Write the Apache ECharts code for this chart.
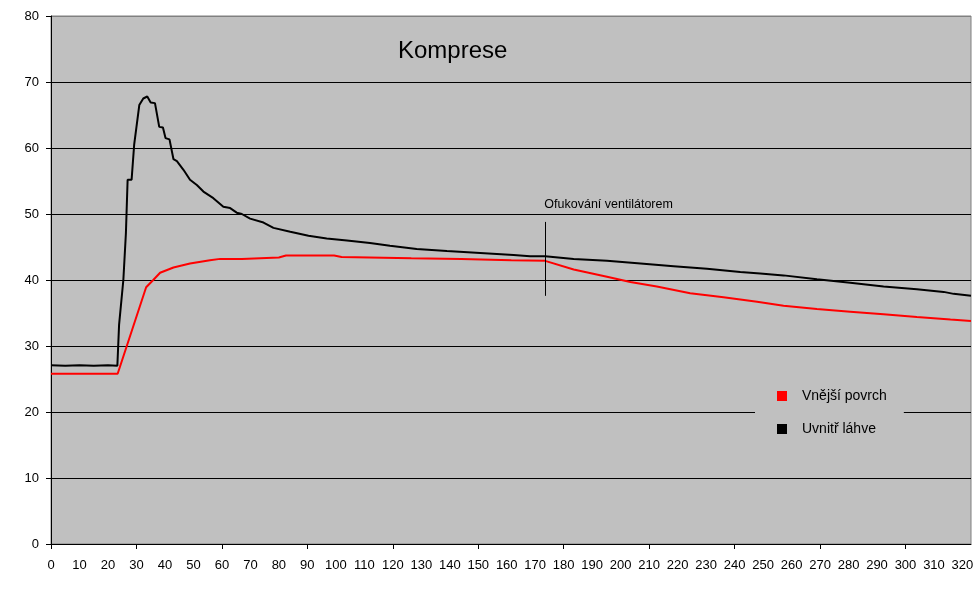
<!DOCTYPE html>
<html>
<head>
<meta charset="utf-8">
<script src="https://cdn.jsdelivr.net/npm/echarts@6/dist/echarts.min.js"></script>
<style>
html,body{margin:0;padding:0;background:#fff;}
#c{width:977px;height:600px;}
</style>
</head>
<body>
<div id="c"></div>
<script>
// ---- data ----
var TITLE = 'Komprese';
var SERIES_NAMES = ['Vnější povrch', 'Uvnitř láhve'];
var Y_TICKS = [0, 10, 20, 30, 40, 50, 60, 70, 80];
var X_MAX = 323;
var ANNOT_TEXT = 'Ofukování ventilátorem';
var ANNOT_X = 173.5;
var ANNOT_Y_RANGE = [37.6, 48.8];
var ANNOT_TEXT_POS = [173.2, 51.4];

var outer = [
  [0,25.8],[23.4,25.8],[33.4,38.9],[35.9,40.0],[38.3,41.1],[43,41.9],[48.8,42.5],[55.8,43.0],
  [59.4,43.2],[67,43.2],[67,43.4],[80,43.4],[80,43.6],[82.5,43.7],[99.4,43.7],[99.4,43.5],
  [102,43.5],[102,43.3],[126.5,43.3],[126.5,43.2],[144,43.2],[144,43.0],[161.6,43.0],
  [161.6,42.9],[173.5,42.9],[183.5,41.6],[195.2,40.5],[203.4,39.7],[212.7,39.0],[224.4,38.0],
  [230.3,37.7],[236.1,37.4],[247.9,36.7],[257.2,36.1],[268.9,35.6],[280.6,35.2],[292.3,34.8],
  [304,34.4],[315.8,34.0],[323,33.8]
];
var inner = [
  [0,27.1],[5,27.0],[10,27.1],[15,27.0],[20,27.1],[23.3,27.0],[23.9,33.2],[24.6,33.3],
  [25.4,40.0],[26.3,47.1],[26.9,55.2],[28.3,55.2],[29.2,60.5],[29.9,60.7],[31,66.5],
  [32.4,67.5],[33.8,67.8],[35,66.9],[36.5,66.8],[38,63.2],[39.3,63.1],[40.2,61.5],[41.6,61.3],
  [43,58.3],[44.2,58.0],[46.5,56.7],[48.8,55.2],[51.2,54.4],[53.5,53.4],[57,52.4],[60.5,51.1],
  [62.9,50.9],[65.2,50.2],[67,50.0],[69.9,49.3],[74.6,48.7],[78.1,47.9],[84,47.3],[90.4,46.7],
  [96.8,46.3],[103.9,46.0],[112,45.6],[119,45.2],[128.4,44.7],[139,44.4],[150.7,44.1],
  [162.4,43.8],[168.2,43.6],[173.5,43.6],[183.5,43.2],[195.2,42.9],[207,42.5],[218.6,42.1],
  [230.3,41.7],[242,41.2],[249,41.0],[257.2,40.7],[268.9,40.1],[280.6,39.6],[292.3,39.0],
  [304,38.6],[313.4,38.2],[316.9,37.9],[323,37.6]
];

// category axis used only to draw tick marks every 30 units
var tickCats = [];
for (var i = 0; i <= X_MAX; i++) tickCats.push(String(i));

var FONT = "'Liberation Sans', Arial, sans-serif";
var splitColors = Y_TICKS.map(function (v, i) { return i === Y_TICKS.length - 1 ? '#808080' : '#000000'; });

var chart = echarts.init(document.getElementById('c'));
chart.setOption({
  animation: false,
  backgroundColor: '#ffffff',
  textStyle: { fontFamily: FONT },
  title: {
    text: TITLE, left: 398, top: 39, padding: 0,
    textStyle: { fontFamily: FONT, fontSize: 24, fontWeight: 'normal', color: '#000' }
  },
  legend: {
    orient: 'vertical', left: 755, top: 377,
    padding: [12, 17, 12, 22],
    backgroundColor: '#C0C0C0',
    itemWidth: 10, itemHeight: 10, itemGap: 19,
    icon: 'rect',
    z: 10,
    textStyle: { fontFamily: FONT, fontSize: 14, color: '#000', padding: [0, 0, 0, 10] },
    data: SERIES_NAMES
  },
  grid: {
    left: 51, right: 6, top: 16, bottom: 56,
    show: true, backgroundColor: '#C0C0C0', borderColor: '#808080', borderWidth: 1
  },
  xAxis: [{
    type: 'value', min: 0, max: X_MAX, interval: 10,
    axisLine: { show: true, onZero: false, lineStyle: { color: '#000', width: 1 } },
    axisTick: { show: false },
    splitLine: { show: false },
    axisLabel: {
      margin: 15, fontSize: 13, color: '#000', fontFamily: FONT,
      showMaxLabel: false,
      formatter: function (v) { return v % 10 === 0 ? String(v) : ''; }
    }
  }, {
    type: 'category', data: tickCats, boundaryGap: false, position: 'bottom',
    axisLine: { show: false },
    axisLabel: { show: false },
    axisTick: { show: true, interval: 29, length: 5, lineStyle: { color: '#000' } },
    splitLine: { show: false }
  }],
  yAxis: {
    type: 'value', min: 0, max: 80, interval: 10,
    axisLine: { show: true, lineStyle: { color: '#000', width: 1 } },
    axisTick: { show: true, length: 5, lineStyle: { color: '#000' } },
    splitLine: { show: true, lineStyle: { color: splitColors, width: 1 } },
    axisLabel: { margin: 12, fontSize: 13, color: '#000', fontFamily: FONT }
  },
  series: [{
    name: SERIES_NAMES[0], type: 'line', data: outer, xAxisIndex: 0,
    showSymbol: false, symbol: 'none',
    lineStyle: { color: '#FF0000', width: 2 }, itemStyle: { color: '#FF0000' }
  }, {
    name: SERIES_NAMES[1], type: 'line', data: inner, xAxisIndex: 0,
    showSymbol: false, symbol: 'none',
    lineStyle: { color: '#000000', width: 2 }, itemStyle: { color: '#000000' },
    markLine: {
      silent: true, symbol: ['none', 'none'], animation: false,
      label: { show: false },
      lineStyle: { color: '#000', width: 1, type: 'solid' },
      data: [[{ coord: [ANNOT_X, ANNOT_Y_RANGE[0]] }, { coord: [ANNOT_X, ANNOT_Y_RANGE[1]] }]]
    },
    markPoint: {
      silent: true, symbol: 'rect', symbolSize: 0, animation: false,
      itemStyle: { color: 'rgba(0,0,0,0)' },
      label: {
        show: true, position: 'right', distance: 0, formatter: ANNOT_TEXT,
        fontFamily: FONT, fontSize: 12.5, color: '#000'
      },
      data: [{ coord: ANNOT_TEXT_POS }]
    }
  }]
});
</script>
</body>
</html>
